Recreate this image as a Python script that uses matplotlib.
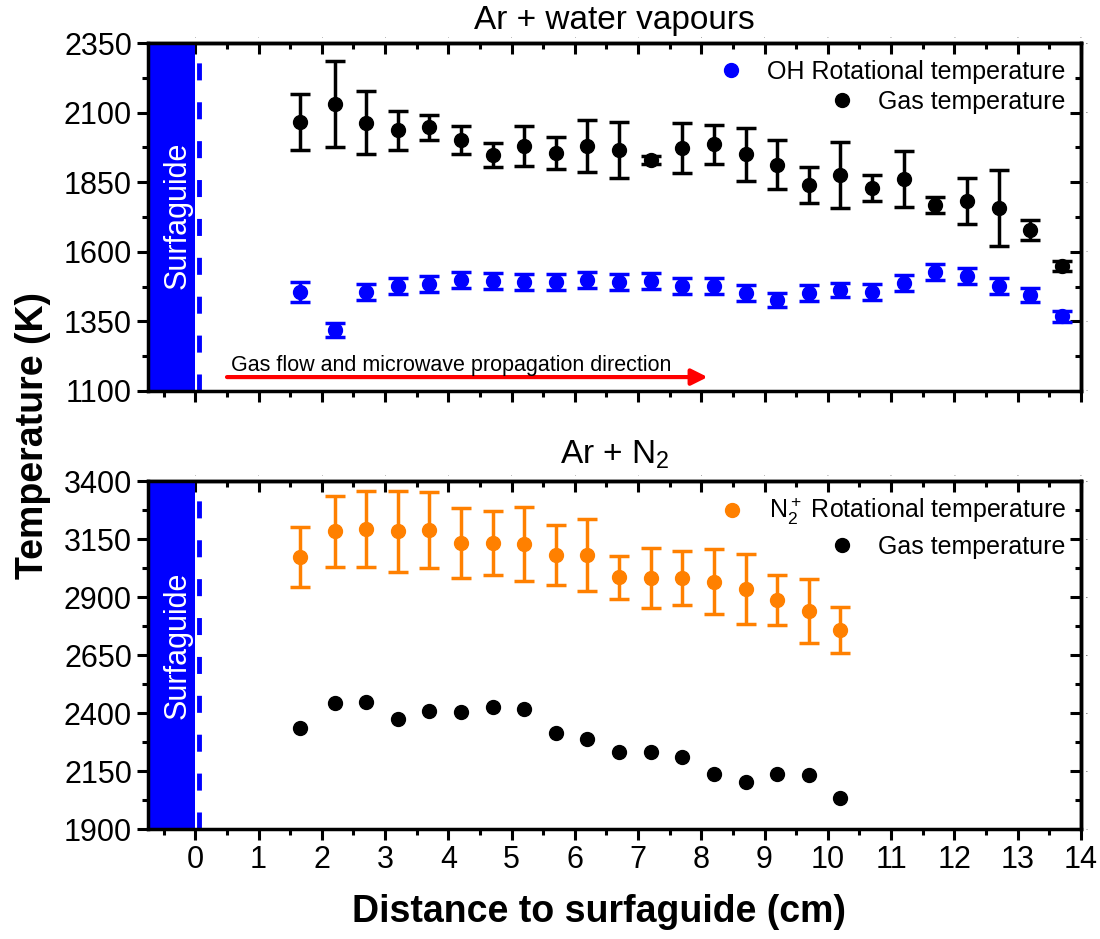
import matplotlib
matplotlib.use('Agg')
import matplotlib.pyplot as plt
from matplotlib.lines import Line2D
from matplotlib.ticker import FixedLocator
import numpy as np

plt.rcParams['font.family'] = ['Liberation Sans', 'DejaVu Sans']
plt.rcParams['mathtext.fontset'] = 'custom'
plt.rcParams['mathtext.rm'] = 'Liberation Sans'
plt.rcParams['mathtext.it'] = 'Liberation Sans:italic'

# top panel: Ar + water vapours
x_top = [1.65, 2.2, 2.7, 3.2, 3.7, 4.2, 4.7, 5.2, 5.7, 6.2, 6.7, 7.2, 7.7,
         8.2, 8.7, 9.2, 9.7, 10.2, 10.7, 11.2, 11.7, 12.2, 12.7, 13.2, 13.7]
gas_top = [2066, 2131, 2063, 2037, 2048, 2002, 1948, 1980, 1955, 1980, 1966, 1930, 1973,
           1987, 1951, 1912, 1840, 1876, 1829, 1861, 1768, 1782, 1757, 1678, 1549]
gas_top_err = [100, 155, 113, 70, 45, 50, 43, 72, 57, 92, 100, 15, 90,
               70, 95, 88, 65, 120, 48, 100, 30, 83, 137, 37, 18]
oh_top = [1456, 1319, 1456, 1477, 1484, 1499, 1495, 1492, 1492, 1499, 1492, 1495, 1477,
          1477, 1452, 1427, 1452, 1463, 1456, 1488, 1527, 1513, 1477, 1445, 1369]
oh_top_err = [35, 25, 28, 28, 28, 28, 28, 28, 28, 28, 28, 28, 28,
              28, 28, 25, 28, 25, 28, 28, 28, 28, 28, 25, 20]

# bottom panel: Ar + N2
x_bot = [1.65, 2.2, 2.7, 3.2, 3.7, 4.2, 4.7, 5.2, 5.7, 6.2, 6.7, 7.2, 7.7,
         8.2, 8.7, 9.2, 9.7, 10.2]
n2_bot = [3072, 3184, 3193, 3184, 3189, 3133, 3133, 3128, 3081, 3081, 2986, 2982, 2982,
          2965, 2934, 2887, 2840, 2758]
n2_bot_err = [130, 153, 165, 175, 163, 152, 140, 160, 130, 155, 93, 130, 116,
              140, 150, 108, 138, 100]
gas_bot = [2335, 2443, 2447, 2374, 2409, 2404, 2426, 2417, 2314, 2288, 2232, 2232, 2210,
           2137, 2103, 2137, 2133, 2034]

BLUE = '#0000ff'
ORANGE = '#ff8000'

fig = plt.figure(figsize=(11, 9.39), dpi=100)
ax1 = fig.add_axes([0.1345, 0.5836, 0.848, 0.3706])
ax2 = fig.add_axes([0.1345, 0.1171, 0.848, 0.3706])

ebkw = dict(fmt='o', markersize=10, elinewidth=2.5, capsize=7, capthick=2.5, zorder=3)


def style_axis(ax, ylo, yhi):
    ax.set_xlim(-0.75, 14)
    ax.set_ylim(ylo, yhi)
    xmaj = FixedLocator(np.arange(0, 14.01, 1))
    xmin = FixedLocator(np.arange(-0.5, 14.01, 0.5))
    ymaj = FixedLocator(np.arange(ylo, yhi + 1, 250))
    ymin = FixedLocator(np.arange(ylo, yhi + 1, 125))
    ax.xaxis.set_major_locator(xmaj)
    ax.xaxis.set_minor_locator(xmin)
    ax.yaxis.set_major_locator(ymaj)
    ax.yaxis.set_minor_locator(ymin)
    for s in ax.spines.values():
        s.set_linewidth(2.5)
    ax.tick_params(which='both', direction='out', width=2.2, top=False, right=False)
    ax.tick_params(which='major', length=8, labelsize=22)
    ax.tick_params(which='minor', length=4)
    # mirrored ticks on top and right, pointing inward
    secx = ax.secondary_xaxis('top')
    secx.xaxis.set_major_locator(xmaj)
    secx.xaxis.set_minor_locator(xmin)
    secy = ax.secondary_yaxis('right')
    secy.yaxis.set_major_locator(ymaj)
    secy.yaxis.set_minor_locator(ymin)
    for sec in (secx, secy):
        sec.tick_params(which='both', direction='in', width=2.2, labelsize=0)
        sec.tick_params(which='major', length=8)
        sec.tick_params(which='minor', length=4)
        sec.spines[:].set_linewidth(2.5)


def surfaguide(ax, ytext):
    ax.axvspan(-0.75, 0, color=BLUE, zorder=1, lw=0)
    ax.axvline(0.06, color=BLUE, lw=3.5, dashes=(3.5, 4.5), zorder=1)
    ax.text(-0.28, ytext, 'Surfaguide', rotation=90, color='white', fontsize=22,
            ha='center', va='center', zorder=2)


def right_legend(ax, handles, labels, bbox, spacing):
    leg = ax.legend(handles, labels, loc='upper right', bbox_to_anchor=bbox,
                    frameon=False, handletextpad=0.45, labelspacing=spacing,
                    borderaxespad=0.2, prop={'size': 18})
    for col in leg._legend_handle_box.get_children():
        col.align = 'right'
    return leg


# top
style_axis(ax1, 1100, 2350)
surfaguide(ax1, 1732)
ax1.errorbar(x_top, gas_top, yerr=gas_top_err, color='black', **ebkw)
ax1.errorbar(x_top, oh_top, yerr=oh_top_err, color=BLUE, **ebkw)
ax1.tick_params(axis='x', labelbottom=False)
ax1.set_title('Ar + water vapours', fontsize=24, pad=6)
ax1.annotate('', xy=(8.1, 1150), xytext=(0.5, 1150),
             arrowprops=dict(arrowstyle='-|>', color='red', lw=3, mutation_scale=24,
                             shrinkA=0, shrinkB=0))
ax1.text(0.57, 1153, 'Gas flow and microwave propagation direction', fontsize=15.5,
         ha='left', va='bottom')
h1 = [Line2D([], [], marker='o', ls='none', color=BLUE, markersize=10),
      Line2D([], [], marker='o', ls='none', color='black', markersize=10)]
right_legend(ax1, h1, ['OH Rotational temperature', 'Gas temperature'], (1.0, 0.995), 0.25)

# bottom
style_axis(ax2, 1900, 3400)
surfaguide(ax2, 2693)
ax2.errorbar(x_bot, n2_bot, yerr=n2_bot_err, color=ORANGE, **ebkw)
ax2.plot(x_bot, gas_bot, 'o', color='black', markersize=10, zorder=3)
ax2.set_title(r'Ar + N$_2$', fontsize=24, pad=8)
h2 = [Line2D([], [], marker='o', ls='none', color=ORANGE, markersize=10),
      Line2D([], [], marker='o', ls='none', color='black', markersize=10)]
right_legend(ax2, h2, [r'N$_2^+$ Rotational temperature', 'Gas temperature'], (1.0, 1.0), 0.3)

fig.text(0.030, 0.536, 'Temperature (K)', rotation=90, fontsize=27, fontweight='bold',
         ha='center', va='center')
fig.text(0.545, 0.029, 'Distance to surfaguide (cm)', fontsize=27, fontweight='bold',
         ha='center', va='center')

fig.savefig('out.png', dpi=100)
